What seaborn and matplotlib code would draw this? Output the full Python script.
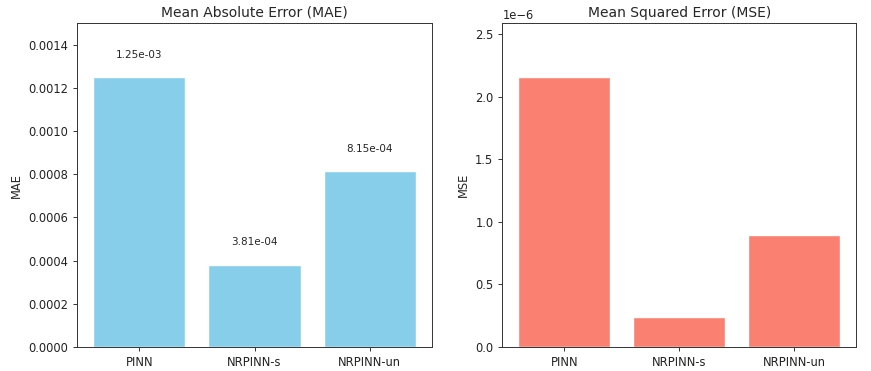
import matplotlib
matplotlib.use("Agg")
import matplotlib.pyplot as plt
import seaborn as sns

# Data
models = ["PINN", "NRPINN-s", "NRPINN-un"]
mae_values = [1.25e-03, 3.81e-04, 8.15e-04]
mse_values = [2.155e-06, 2.38e-07, 8.97e-07]

sns.set_style("ticks")
plt.rcParams["font.family"] = ["DejaVu Sans"]
plt.rcParams["font.size"] = 8.3
plt.rcParams["xtick.labelsize"] = 8.3
plt.rcParams["ytick.labelsize"] = 8.3
plt.rcParams["axes.labelsize"] = 8.3
plt.rcParams["axes.titlesize"] = 10

fig, (ax1, ax2) = plt.subplots(1, 2, figsize=(8.71, 3.71), dpi=100)
ax1.set_position([0.0884, 0.0655, 0.4076, 0.8712])
ax2.set_position([0.5767, 0.0655, 0.4065, 0.8712])

# MAE
sns.barplot(x=models, y=mae_values, color="skyblue", saturation=1, width=0.8, ax=ax1)
ax1.set_title("Mean Absolute Error (MAE)", pad=5)
ax1.set_ylabel("MAE")
ax1.set_ylim(0, max(mae_values) * 1.2)
for i, v in enumerate(mae_values):
    ax1.text(i, v + 0.00008, f"{v:.2e}", ha="center", va="bottom", fontsize=7.5)

# MSE
sns.barplot(x=models, y=mse_values, color="salmon", saturation=1, width=0.8, ax=ax2)
ax2.set_title("Mean Squared Error (MSE)", pad=5)
ax2.set_ylabel("MSE")
ax2.set_ylim(0, max(mse_values) * 1.2)
ax2.yaxis.get_offset_text().set_fontsize(8.3)

for ax in (ax1, ax2):
    ax.set_xlim(-0.54, 2.54)
    ax.set_xlabel("")
    for side in ["top", "right", "left", "bottom"]:
        ax.spines[side].set_visible(True)
        ax.spines[side].set_color("#333333")
        ax.spines[side].set_linewidth(0.7)
    ax.tick_params(colors="#333333", labelcolor="#222222", direction="out", length=2.9, width=0.7)

fig.savefig("out.png", dpi=100)
